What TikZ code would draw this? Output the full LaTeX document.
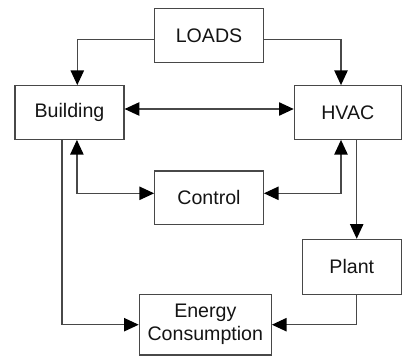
\documentclass[tikz,border=0pt]{standalone}
\usepackage{fontspec}
\setmainfont{Liberation Sans}
\usetikzlibrary{arrows.meta}
\newcommand{\pxu}{0.75pt}
\definecolor{linec}{HTML}{484848}
\definecolor{textc}{HTML}{141414}
\tikzset{
  blk/.style={draw=linec, line width=0.9pt, inner sep=0pt, align=center,
    text=textc, font=\fontsize{14.7}{17.3}\selectfont},
  conn/.style={draw=linec, line width=0.9pt,
    >={Triangle[length=11pt,width=10pt,color=black]}}
}
\begin{document}
\begin{tikzpicture}[x=0.75pt,y=-0.75pt]
\useasboundingbox (0,0) rectangle (402,356);
\node[blk, minimum width=108.6*\pxu, minimum height=54*\pxu] (loads) at (209,35.3) {LOADS};
\node[blk, minimum width=109*\pxu, minimum height=53.6*\pxu] (bldg) at (69.5,112.5) {Building};
\node[blk, minimum width=107*\pxu, minimum height=53.6*\pxu] (hvac) at (347.8,112.5) {HVAC};
\node[blk, minimum width=108.6*\pxu, minimum height=53.3*\pxu] (ctrl) at (209,197.7) {Control};
\node[blk, minimum width=99*\pxu, minimum height=54.9*\pxu] (plant) at (351.8,266.8) {Plant};
\node[blk, minimum width=132*\pxu, minimum height=60.7*\pxu] (energy) at (205.3,324.7) {Energy\\Consumption};

\draw[conn,->] ([yshift=-4*\pxu]loads.west) -| ([xshift=7.8*\pxu]bldg.north);
\draw[conn,->] ([yshift=-4*\pxu]loads.east) -| ([xshift=-6.8*\pxu]hvac.north);
\draw[conn,<->] ([yshift=3.5*\pxu]bldg.east) -- ([yshift=3.5*\pxu]hvac.west);
\draw[conn,<->] ([yshift=4.4*\pxu]ctrl.west) -| ([xshift=7.4*\pxu]bldg.south);
\draw[conn,<->] ([yshift=4.4*\pxu]ctrl.east) -| ([xshift=-6.8*\pxu]hvac.south);
\draw[conn,->] ([xshift=-7.5*\pxu]bldg.south) |- (energy.west);
\draw[conn,->] ([xshift=8.9*\pxu]hvac.south) -- ([xshift=8.9*\pxu]hvac.south |- plant.north);
\draw[conn,->] ([xshift=4.9*\pxu]plant.south) |- (energy.east);
\end{tikzpicture}
\end{document}
